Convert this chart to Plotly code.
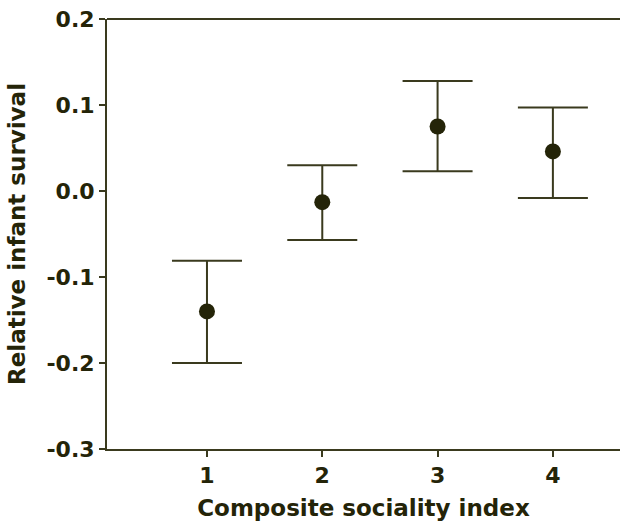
import plotly.graph_objects as go

# Data
sociality_index = [1, 2, 3, 4]
mean_survival = [-0.140, -0.013, 0.075, 0.046]
upper_ci = [-0.081, 0.030, 0.128, 0.097]
lower_ci = [-0.200, -0.057, 0.023, -0.008]

y_tick_vals = [0.2, 0.1, 0.0, -0.1, -0.2, -0.3]
y_tick_text = ["0.2", "0.1", "0.0", "-0.1", "-0.2", "-0.3"]
x_tick_vals = [1, 2, 3, 4]
x_tick_text = ["1", "2", "3", "4"]

err_plus = [u - m for u, m in zip(upper_ci, mean_survival)]
err_minus = [m - l for m, l in zip(mean_survival, lower_ci)]

ink = "#242408"
line_col = "#3a3a1e"
font_family = "DejaVu Sans"

fig = go.Figure()
fig.add_trace(go.Scatter(
    x=sociality_index,
    y=mean_survival,
    mode="markers",
    marker=dict(size=16, color=ink, symbol="circle"),
    error_y=dict(
        type="data",
        symmetric=False,
        array=err_plus,
        arrayminus=err_minus,
        color=line_col,
        thickness=2,
        width=35,
    ),
    showlegend=False,
))

fig.update_layout(
    width=620,
    height=524,
    margin=dict(l=107, r=0, t=19, b=75),
    paper_bgcolor="white",
    plot_bgcolor="white",
    font=dict(family=font_family, color=ink, size=22, weight="bold"),
    xaxis=dict(
        range=[0.133, 4.582],
        tickvals=x_tick_vals,
        ticktext=x_tick_text,
        ticks="outside",
        ticklen=6,
        tickwidth=2,
        tickcolor=line_col,
        showline=True,
        linecolor=line_col,
        linewidth=2,
        showgrid=False,
        zeroline=False,
        tickfont=dict(size=22, family=font_family, color=ink, weight="bold"),
        title=dict(text="Composite sociality index", standoff=12,
                   font=dict(size=23, family=font_family, color=ink, weight="bold")),
    ),
    yaxis=dict(
        range=[-0.3, 0.2],
        tickvals=y_tick_vals,
        ticktext=y_tick_text,
        ticks="outside",
        ticklen=6,
        tickwidth=2,
        tickcolor=line_col,
        showline=True,
        linecolor=line_col,
        linewidth=2,
        showgrid=False,
        zeroline=False,
        tickfont=dict(size=22, family=font_family, color=ink, weight="bold"),
        title=dict(text="Relative infant survival", standoff=14,
                   font=dict(size=23, family=font_family, color=ink, weight="bold")),
    ),
    shapes=[dict(type="line", xref="paper", yref="paper", x0=0, x1=1, y0=1, y1=1,
                 line=dict(color=line_col, width=2))],
)

fig.write_html("out.html")
